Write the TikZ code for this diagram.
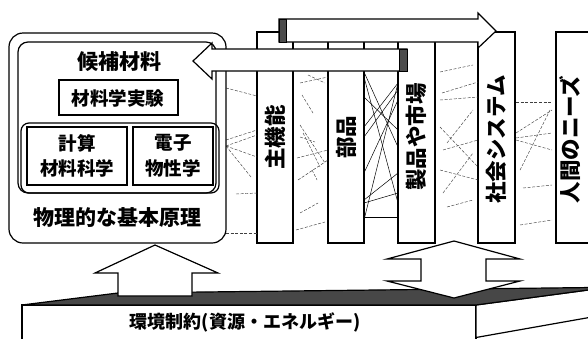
\documentclass[tikz,border=0pt]{standalone}
\usepackage{fontspec}
\setmainfont{Noto Sans CJK JP}
\tikzset{
  outl/.style={draw=black, line width=1.2pt},
  colbox/.style={draw=black, line width=1.2pt, fill=white},
  dline/.style={draw=black!75, line width=0.45pt, dash pattern=on 3pt off 1.6pt},
  sline/.style={draw=black, line width=0.5pt},
  bigtxt/.style={font=\bfseries\fontsize{21}{21}\selectfont, inner sep=0pt},
  midtxt/.style={font=\bfseries\fontsize{18.5}{18.5}\selectfont, inner sep=0pt},
  envtxt/.style={font=\bfseries\fontsize{18}{18}\selectfont, inner sep=0pt},
  coltxt/.style={font=\bfseries\fontsize{21.5}{21.5}\selectfont, inner sep=0pt, rotate=90},
  darkblk/.style={fill=black!70, draw=black, line width=0.6pt}
}
\begin{document}
\begin{tikzpicture}[x=1pt,y=-1pt]
\useasboundingbox (0,0) rectangle (588,338);
% ---------- slab ----------
\fill[white] (0,0) rectangle (588,338);
\draw[outl, fill=white] (22,305) -- (22,345) -- (476,345) -- (476,305) -- cycle;
\draw[outl, fill=white] (476,305) -- (592,289.5) -- (592,317) -- (476,337.5) -- cycle;
\draw[outl, fill=black!72] (22,305) -- (118,293) -- (592,287.5) -- (592,289.5) -- (476,305) -- cycle;
\node[envtxt] (env) at (245,322) {環境制約(資源・エネルギー)};
% ---------- columns ----------
\draw[colbox] (257,32) rectangle (293,243);
\draw[colbox] (328,32) rectangle (364,243);
\draw[colbox] (398,32) rectangle (435,243);
\draw[colbox] (478,32) rectangle (515,243);
\draw[colbox] (556,32) rectangle (600,243);
\node[coltxt] (c1) at (275,137.5) {主機能};
\node[coltxt] (c2) at (346,137) {部品};
\node[coltxt] (c3) at (416.5,137) {製品や市場};
\node[coltxt] (c4) at (496.5,139.5) {社会システム};
\node[coltxt] (c5) at (570,139.5) {人間のニーズ};
% ---------- dashed connections: left gap ----------
\draw[dline] (226,88) -- (257,96);
\draw[dline] (226,140) -- (257,130);
\draw[dline] (226,146) -- (257,135);
\draw[dline] (226,146) -- (257,157);
\draw[dline] (226,146) -- (251,177);
\draw[dline] (236,194) -- (257,193);
\draw[dline] (226,233) -- (257,233);
% gap 1
\draw[dline] (308,75) -- (325,83);
\draw[dline] (300,83) -- (328,77);
\draw[dline] (302,95) -- (313,113);
\draw[dline] (300,125) -- (325,163);
\draw[dline] (300,137) -- (315,142);
\draw[dline] (297,158) -- (328,150);
\draw[dline] (298,180) -- (328,160);
\draw[dline] (312,170) -- (317,180);
\draw[dline] (300,213) -- (318,203);
\draw[dline] (303,133) -- (320,167);
\draw[dline] (296,230) -- (325,222);
% gap 2 (solid)
\draw[sline] (364,72) -- (398,147);
\draw[sline] (398,83) -- (364,220);
\draw[sline] (364,77) -- (398,203);
\draw[sline] (364,127) -- (398,83);
\draw[sline] (364,173) -- (398,100);
\draw[sline] (364,200) -- (398,173);
\draw[sline] (364,203) -- (398,193);
\draw[sline] (364,217) -- (398,217);
\draw[sline] (364,97) -- (398,130);
\draw[sline] (364,137) -- (398,90);
% gap 3
\draw[dline] (440,72) -- (473,65);
\draw[dline] (442,93) -- (478,82);
\draw[dline] (440,100) -- (478,97);
\draw[dline] (447,143) -- (473,110);
\draw[dline] (443,150) -- (478,140);
\draw[dline] (440,170) -- (478,180);
\draw[dline] (443,193) -- (473,153);
\draw[dline] (447,207) -- (473,200);
\draw[dline] (440,127) -- (478,167);
% gap 4
\draw[dline] (516,102) -- (552,102);
\draw[dline] (516,133) -- (552,110);
\draw[dline] (516,138) -- (552,133);
\draw[dline] (516,140) -- (552,150);
\draw[dline] (520,170) -- (550,110);
\draw[dline] (523,188) -- (552,185);
\draw[dline] (520,225) -- (552,220);
% ---------- left box ----------
\draw[outl, fill=white, rounded corners=14pt] (9,33) rectangle (226,243);
\draw[outl, rounded corners=10pt] (18,42) rectangle (216,193);
\draw[outl, rounded corners=8pt] (21,123) rectangle (219,193);
\draw[outl] (59,80) rectangle (178,115);
\draw[outl] (27,127) rectangle (127,185);
\draw[outl] (133,127) rectangle (213,185);
\node[bigtxt] (cand) at (119,62) {候補材料};
\node[midtxt] (exp) at (118,98) {材料学実験};
\node[midtxt] (calc1) at (77,143) {計算};
\node[midtxt] (calc2) at (77,168) {材料科学};
\node[midtxt] (ele1) at (173,143) {電子};
\node[midtxt] (ele2) at (173,168) {物性学};
\node[bigtxt] (phys) at (117,218) {物理的な基本原理};
% ---------- top arrows ----------
\draw[outl, fill=white] (279,19) -- (478,19) -- (478,13) -- (496,31) -- (478,48) -- (478,42) -- (279,42) -- cycle;
\draw[darkblk] (279,19) rectangle (286,42);
\draw[outl, fill=white] (407,49) -- (212,49) -- (212,43) -- (193,61) -- (212,79) -- (212,71) -- (407,71) -- cycle;
\draw[darkblk] (399,49) rectangle (407,71);
% ---------- bottom arrows ----------
\draw[outl, fill=white] (118,296) -- (118,273) -- (95,273) -- (155,245) -- (218,273) -- (192,273) -- (192,296) -- cycle;
\draw[outl, fill=white] (454,241) -- (520,259) -- (486,259) -- (486,281) -- (520,281) -- (454,298) -- (387,281) -- (421,281) -- (421,259) -- (387,259) -- cycle;
\end{tikzpicture}
\end{document}
